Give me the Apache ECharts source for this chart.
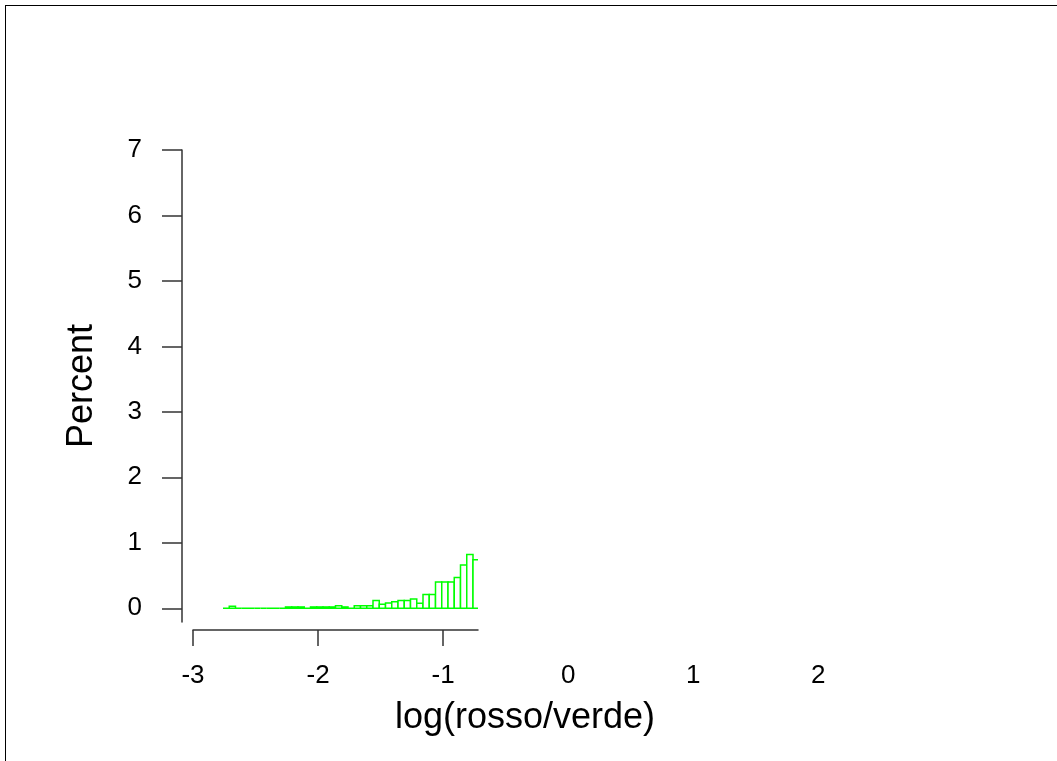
<!DOCTYPE html>
<html>
<head>
<meta charset="utf-8">
<script src="https://cdn.jsdelivr.net/npm/echarts@6/dist/echarts.min.js"></script>
<style>
  html, body { margin: 0; padding: 0; background: #fff; overflow: hidden; }
  .frame { position: absolute; left: 5px; top: 5px; width: 1100px; height: 800px; border: 1px solid #000; }
  #chart { position: absolute; left: 0; top: 0; width: 1057px; height: 761px; }
</style>
</head>
<body>
<div class="frame"></div>
<div id="chart"></div>
<script>
// histogram bins: 0.05 wide, first one starts at -2.76
const binStart = -2.76;
const binWidth = 0.05;
const percent = [
  0, 0.03, 0, 0, 0, 0, 0, 0, 0, 0,
  0.02, 0.02, 0.02, 0, 0.02, 0.02, 0.02, 0.02, 0.04, 0.02,
  0, 0.04, 0.04, 0.04, 0.12, 0.06, 0.08, 0.10, 0.12, 0.12,
  0.14, 0.075, 0.21, 0.21, 0.40, 0.40, 0.40, 0.47, 0.66, 0.82,
  0.74
];
const xTicks = [-3, -2, -1, 0, 1, 2];
const xDrawnTicks = [-3, -2, -1];
const yTicks = [0, 1, 2, 3, 4, 5, 6, 7];

const font = 'Liberation Sans, Arial, sans-serif';

const bins = percent.map((p, i) => [binStart + i * binWidth, binStart + (i + 1) * binWidth, p]);

const chart = echarts.init(document.getElementById('chart'));
const option = {
  animation: false,
  grid: [
    // plotted part (axis line stops where the data stops)
    { left: 193, top: 150, width: 285, height: 472 },
    // full label scale
    { left: 193, top: 150, width: 664, height: 480 }
  ],
  xAxis: [
    {
      gridIndex: 0,
      type: 'value',
      min: -3,
      max: -0.72,
      interval: 1,
      offset: 8,
      axisLine: { show: true, onZero: false, lineStyle: { color: '#333', width: 1.5 } },
      axisTick: { show: true, length: 16, customValues: xDrawnTicks, lineStyle: { color: '#333', width: 1.5 } },
      axisLabel: { show: false },
      splitLine: { show: false }
    },
    {
      gridIndex: 1,
      type: 'value',
      min: -3,
      max: 2.31,
      interval: 1,
      axisLine: { show: false, onZero: false },
      axisTick: { show: false },
      splitLine: { show: false },
      axisLabel: {
        show: true,
        margin: 33,
        color: '#000',
        fontFamily: font,
        fontSize: 26,
        showMaxLabel: false,
        formatter: v => (xTicks.indexOf(v) >= 0 ? String(v) : '')
      },
      name: 'log(rosso/verde)',
      nameLocation: 'middle',
      nameGap: 70,
      nameTextStyle: { color: '#000', fontFamily: font, fontSize: 36 }
    }
  ],
  yAxis: [
    {
      gridIndex: 0,
      type: 'value',
      min: -0.21,
      max: 7,
      offset: 11,
      axisLine: { show: true, onZero: false, lineStyle: { color: '#333', width: 1.5 } },
      axisTick: { show: true, length: 20, customValues: yTicks, lineStyle: { color: '#333', width: 1.5 } },
      axisLabel: {
        show: true,
        customValues: yTicks,
        margin: 40,
        color: '#000',
        fontFamily: font,
        fontSize: 26
      },
      splitLine: { show: false },
      name: 'Percent',
      nameLocation: 'middle',
      nameGap: 82,
      nameTextStyle: { color: '#000', fontFamily: font, fontSize: 36 }
    },
    {
      gridIndex: 1,
      type: 'value',
      show: false
    }
  ],
  series: [
    {
      type: 'custom',
      xAxisIndex: 0,
      yAxisIndex: 0,
      clip: true,
      encode: { x: [0, 1], y: 2 },
      data: bins,
      renderItem: function (params, api) {
        const p0 = api.coord([api.value(0), 0]);
        const p1 = api.coord([api.value(1), api.value(2)]);
        return {
          type: 'rect',
          shape: { x: p0[0], y: p1[1], width: p1[0] - p0[0], height: p0[1] - p1[1] },
          style: { fill: '#fff', stroke: '#00ff00', lineWidth: 1.5 }
        };
      }
    }
  ]
};
chart.setOption(option);
</script>
</body>
</html>
